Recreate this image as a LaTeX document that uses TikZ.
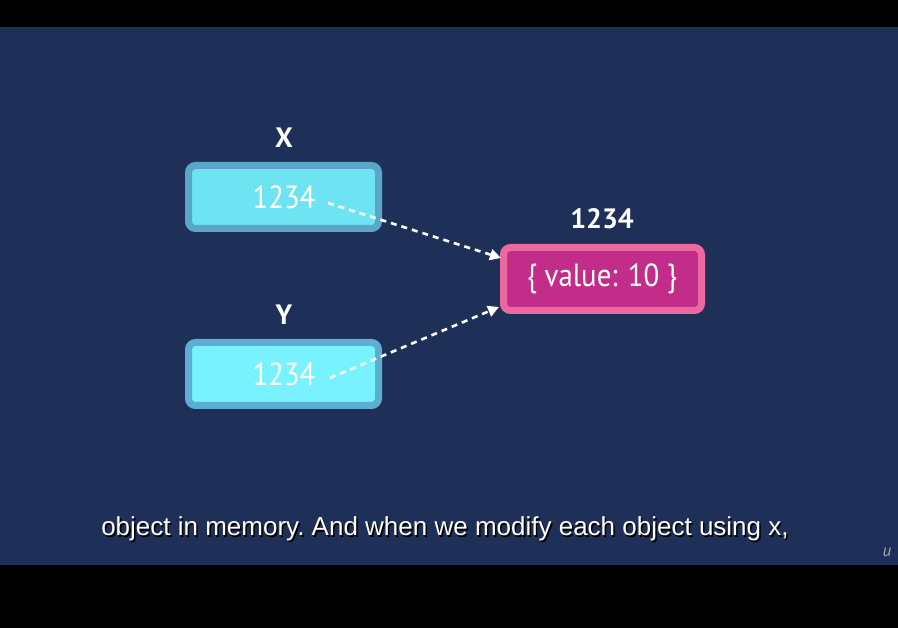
\documentclass[tikz,border=0pt]{standalone}
\usepackage{graphicx}
\usepackage{fontspec}
\setmainfont{PT Sans}
\newfontfamily\subfont{Liberation Sans}
\usetikzlibrary{arrows.meta}
\definecolor{navy}{HTML}{1E3058}
\definecolor{xborder}{HTML}{5BA6C8}
\definecolor{xfill}{HTML}{6EE4F2}
\definecolor{yborder}{HTML}{5EAED2}
\definecolor{yfill}{HTML}{78F2FF}
\definecolor{pborder}{HTML}{EC69A0}
\definecolor{pfill}{HTML}{C32D8A}
\newcommand{\narrow}[1]{\scalebox{0.9}[1.0]{#1}}
\tikzset{
  membox/.style={line width=7pt, rounded corners=7pt, minimum width=190pt, minimum height=63pt, inner sep=0pt},
  lbl/.style={text=white, font=\fontsize{28}{30}\selectfont\bfseries},
  val/.style={text=white, font=\fontsize{32}{34}\selectfont},
  ref/.style={draw=white, line width=2.6pt, dash pattern=on 6pt off 5pt, -{Triangle[length=11pt,width=11pt]}},
  subt/.style={font=\subfont\fontsize{26}{28}\selectfont\frenchspacing},
}
\begin{document}
\begin{tikzpicture}[x=1pt,y=-1pt]
\fill[black] (0,0) rectangle (898,628);
\fill[navy] (0,27) rectangle (898,565);
\useasboundingbox (0,0) rectangle (898,628);
% boxes
\node[membox, draw=xborder, fill=xfill] (xbox) at (283.5,197) {};
\node[membox, draw=yborder, fill=yfill] (ybox) at (283.5,374) {};
\node[membox, draw=pborder, fill=pfill, minimum width=198pt] (obj) at (602.5,279) {};
% labels
\node[lbl] (xl) at (284,138) {X};
\node[lbl] (yl) at (284,315) {Y};
\node[lbl] (ol) at (602,219) {1234};
% values
\node[val] (xv) at (284,197) {\narrow{1234}};
\node[val] (yv) at (284,374) {\narrow{1234}};
\node[val] (ov) at (602,279) {\narrow{\{ value: 10 \}}};
% arrows
\coordinate (xs) at (328,203);
\coordinate (ys) at (330,378);
\coordinate (xe) at (501,258);
\coordinate (ye) at (499,307);
\draw[ref] (xs) -- (xe);
\draw[ref] (ys) -- (ye);
% subtitle
\node[subt, text=black] (subsh) at (446.5,530.5) {object in memory. And when we modify each object using x,};
\node[subt, text=white] (sub) at (445,529) {object in memory. And when we modify each object using x,};
\node[text=gray!70, font=\fontsize{17}{17}\selectfont\itshape] (logo) at (887,552) {u};
\end{tikzpicture}
\end{document}
